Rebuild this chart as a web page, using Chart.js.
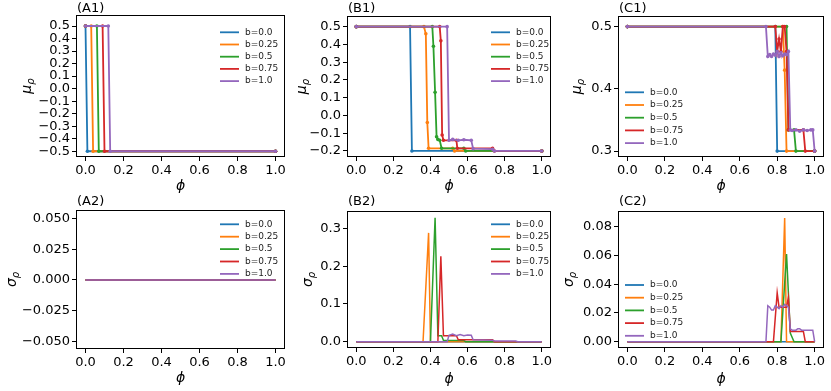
<!DOCTYPE html>
<html>
<head>
<meta charset="utf-8">
<script src="https://cdn.jsdelivr.net/npm/chart.js@4/dist/chart.umd.min.js"></script>
<style>
  body { margin: 0; background: #fff; width: 831px; height: 391px; position: relative; overflow: hidden; }
  .panel { position: absolute; }
</style>
</head>
<body>
<div class="panel" style="left:0px;top:0px;width:290px;height:195px"><canvas id="cA1"></canvas></div>
<div class="panel" style="left:290px;top:0px;width:270px;height:195px"><canvas id="cB1"></canvas></div>
<div class="panel" style="left:560px;top:0px;width:271px;height:195px"><canvas id="cC1"></canvas></div>
<div class="panel" style="left:0px;top:195px;width:290px;height:196px"><canvas id="cA2"></canvas></div>
<div class="panel" style="left:290px;top:195px;width:270px;height:196px"><canvas id="cB2"></canvas></div>
<div class="panel" style="left:560px;top:195px;width:271px;height:196px"><canvas id="cC2"></canvas></div>
<script>
// series names and colours (matplotlib tab10)
const seriesLabels = ['b=0.0', 'b=0.25', 'b=0.5', 'b=0.75', 'b=1.0'];
const seriesColors = ['#1f77b4', '#ff7f0e', '#2ca02c', '#d62728', '#9467bd'];

// tick labels
const phiTicks = [0, 0.2, 0.4, 0.6, 0.8, 1.0];
const a1Ticks = [-0.5, -0.4, -0.3, -0.2, -0.1, 0, 0.1, 0.2, 0.3, 0.4, 0.5];
const b1Ticks = [-0.2, -0.1, 0, 0.1, 0.2, 0.3, 0.4, 0.5];
const c1Ticks = [0.3, 0.4, 0.5];
const a2Ticks = [-0.05, -0.025, 0, 0.025, 0.05];
const b2Ticks = [0, 0.1, 0.2, 0.3];
const c2Ticks = [0, 0.02, 0.04, 0.06, 0.08];

// (A1) mu_rho
const a1Phi = [
  [0, 0.01, 1],
  [0, 0.03, 0.04, 1],
  [0, 0.06, 0.07, 1],
  [0, 0.09, 0.10, 1],
  [0, 0.12, 0.13, 1]
];
const a1Mu = [
  [0.5, -0.5, -0.5],
  [0.5, 0.5, -0.5, -0.5],
  [0.5, 0.5, -0.5, -0.5],
  [0.5, 0.5, -0.5, -0.5],
  [0.5, 0.5, -0.5, -0.5]
];

// (B1) mu_rho
const b1Phi = [
  [0, 0.29, 0.30, 1],
  [0, 0.365, 0.375, 0.383, 0.39, 0.52, 0.53, 1],
  [0, 0.41, 0.416, 0.425, 0.433, 0.44, 0.45, 0.46, 0.58, 0.59, 1],
  [0, 0.45, 0.456, 0.463, 0.47, 0.54, 0.545, 0.735, 0.745, 1],
  [0, 0.49, 0.50, 0.52, 0.55, 0.58, 0.62, 0.63, 0.735, 0.745, 1]
];
const b1Mu = [
  [0.5, 0.5, -0.2, -0.2],
  [0.5, 0.5, 0.46, -0.04, -0.185, -0.185, -0.2, -0.2],
  [0.5, 0.5, 0.39, 0.13, -0.12, -0.135, -0.14, -0.185, -0.185, -0.2, -0.2],
  [0.5, 0.5, 0.42, -0.11, -0.14, -0.14, -0.185, -0.185, -0.2, -0.2],
  [0.5, 0.5, -0.14, -0.135, -0.14, -0.137, -0.14, -0.187, -0.19, -0.2, -0.2]
];

// (C1) mu_rho
const c1Phi = [
  [0, 0.79, 0.80, 1],
  [0, 0.83, 0.84, 0.85, 1],
  [0, 0.85, 0.86, 0.89, 0.90, 1],
  [0, 0.79, 0.80, 0.81, 0.82, 0.83, 0.84, 0.85, 0.86, 0.94, 0.95, 1],
  [0, 0.74, 0.75, 0.76, 0.77, 0.78, 0.79, 0.80, 0.81, 0.82, 0.83, 0.84, 0.85, 0.86, 0.87, 0.88, 0.90, 0.92, 0.94, 0.96, 0.98, 0.99, 1]
];
const c1Mu = [
  [0.5, 0.5, 0.3, 0.3],
  [0.5, 0.5, 0.43, 0.3, 0.3],
  [0.5, 0.5, 0.334, 0.334, 0.3, 0.3],
  [0.5, 0.5, 0.46, 0.48, 0.46, 0.5, 0.5, 0.46, 0.334, 0.334, 0.3, 0.3],
  [0.5, 0.5, 0.452, 0.455, 0.452, 0.456, 0.454, 0.46, 0.452, 0.458, 0.453, 0.456, 0.455, 0.46, 0.334, 0.333, 0.334, 0.332, 0.334, 0.333, 0.334, 0.334, 0.3]
];

// (A2) sigma_rho
const a2Phi = [[0, 1], [0, 1], [0, 1], [0, 1], [0, 1]];
const a2Sigma = [[0, 0], [0, 0], [0, 0], [0, 0], [0, 0]];

// (B2) sigma_rho
const b2Phi = [
  [0, 1],
  [0, 0.36, 0.39, 0.40, 1],
  [0, 0.40, 0.425, 0.44, 0.46, 0.47, 0.58, 0.59, 1],
  [0, 0.44, 0.456, 0.47, 0.54, 0.55, 0.735, 0.745, 1],
  [0, 0.49, 0.50, 0.52, 0.54, 0.56, 0.58, 0.60, 0.62, 0.63, 0.735, 0.745, 0.86, 0.87, 1]
];
const b2Sigma = [
  [0, 0],
  [0, 0, 0.288, 0, 0],
  [0, 0, 0.328, 0.016, 0.016, 0.004, 0.003, 0, 0],
  [0, 0, 0.226, 0.016, 0.016, 0.005, 0.005, 0, 0],
  [0, 0, 0.017, 0.02, 0.016, 0.019, 0.016, 0.018, 0.017, 0.005, 0.004, 0.002, 0.002, 0, 0]
];

// (C2) sigma_rho
const c2Phi = [
  [0, 1],
  [0, 0.82, 0.84, 0.85, 1],
  [0, 0.82, 0.85, 0.87, 0.89, 1],
  [0, 0.78, 0.80, 0.81, 0.85, 0.86, 0.87, 0.94, 0.95, 1],
  [0, 0.74, 0.75, 0.76, 0.77, 0.78, 0.79, 0.80, 0.81, 0.82, 0.83, 0.84, 0.85, 0.86, 0.87, 0.88, 0.89, 0.90, 0.91, 0.92, 0.93, 0.94, 0.96, 0.98, 0.99, 1]
];
const c2Sigma = [
  [0, 0],
  [0, 0, 0.086, 0, 0],
  [0, 0, 0.061, 0.006, 0, 0],
  [0, 0, 0.034, 0.024, 0.024, 0.031, 0.007, 0.007, 0, 0],
  [0, 0, 0.025, 0.024, 0.022, 0.022, 0.025, 0.024, 0.023, 0.025, 0.024, 0.026, 0.025, 0.024, 0.009, 0.008, 0.008, 0.008, 0.009, 0.009, 0.008, 0.008, 0.008, 0.008, 0.008, 0]
];

const FONT = '"DejaVu Sans", sans-serif';

function fmt(v, digits) {
  if (Math.abs(v) < 1e-9) v = 0;
  return v.toFixed(digits).replace('-', '\u2212');
}

// frame, panel title, axis labels and legend
const decorPlugin = {
  id: 'decor',
  afterDraw(chart, args, o) {
    const ctx = chart.ctx;
    const a = chart.chartArea;
    ctx.save();
    ctx.strokeStyle = '#000';
    ctx.lineWidth = 1;
    ctx.strokeRect(Math.round(a.left) + 0.5, Math.round(a.top) + 0.5,
      Math.round(a.right - a.left) - 1, Math.round(a.bottom - a.top) - 1);

    ctx.fillStyle = '#000';
    ctx.textBaseline = 'middle';
    ctx.textAlign = 'left';
    ctx.font = '13px ' + FONT;
    ctx.fillText(o.title, a.left + 1, o.titleY);

    ctx.textAlign = 'center';
    ctx.font = 'italic 14px ' + FONT;
    ctx.fillText('\u03d5', (a.left + a.right) / 2, o.xLabelY);

    // y label: mu / sigma with subscript rho, rotated
    ctx.save();
    ctx.translate(o.yLabelX, (a.top + a.bottom) / 2);
    ctx.rotate(-Math.PI / 2);
    ctx.textAlign = 'left';
    ctx.font = 'italic 14px ' + FONT;
    const main = o.ySymbol;
    const w1 = ctx.measureText(main).width;
    ctx.font = 'italic 10px ' + FONT;
    const w2 = ctx.measureText('\u03c1').width;
    const x0 = -(w1 + w2) / 2;
    ctx.font = 'italic 14px ' + FONT;
    ctx.fillText(main, x0, 0);
    ctx.font = 'italic 10px ' + FONT;
    ctx.fillText('\u03c1', x0 + w1, 4);
    ctx.restore();

    // legend
    ctx.font = '9px ' + FONT;
    ctx.textAlign = 'left';
    chart.data.datasets.forEach((ds, i) => {
      const y = o.legY + i * o.legGap;
      ctx.strokeStyle = ds.borderColor;
      ctx.lineWidth = 1.8;
      ctx.beginPath();
      ctx.moveTo(o.legX, y);
      ctx.lineTo(o.legX + 19, y);
      ctx.stroke();
      ctx.fillStyle = '#222';
      ctx.fillText(ds.label, o.legX + 25, y);
    });
    ctx.restore();
  }
};

function makePanel(p) {
  const datasets = p.xs.map((xs, i) => ({
    label: seriesLabels[i],
    data: xs.map((x, j) => ({ x: x, y: p.ys[i][j] })),
    borderColor: seriesColors[i],
    backgroundColor: seriesColors[i],
    borderWidth: p.markers ? 1.8 : 1.5,
    pointRadius: p.markers ? 1.8 : 0,
    pointBorderWidth: 0,
    tension: 0,
    order: 4 - i
  }));
  const tickGrid = { display: true, drawOnChartArea: false, drawTicks: true, tickLength: 4, color: '#000', lineWidth: 1 };
  new Chart(document.getElementById(p.id), {
    type: 'line',
    data: { datasets: datasets },
    options: {
      responsive: true,
      maintainAspectRatio: false,
      animation: false,
      events: [],
      layout: { padding: { top: p.area[1] - p.box[1], right: p.box[2] - p.area[2], left: 0, bottom: 0 } },
      plugins: {
        legend: { display: false },
        tooltip: { enabled: false },
        decor: p.decor
      },
      scales: {
        x: {
          type: 'linear',
          min: -0.05,
          max: 1.05,
          grid: tickGrid,
          border: { display: false },
          afterBuildTicks: s => { s.ticks = phiTicks.map(v => ({ value: v })); },
          afterFit: s => { s.height = p.box[3] - p.area[3]; },
          ticks: {
            autoSkip: false, maxRotation: 0, padding: 2, color: '#000',
            font: { family: FONT, size: 13 },
            callback: v => fmt(v, 1)
          }
        },
        y: {
          min: p.yMin,
          max: p.yMax,
          grid: tickGrid,
          border: { display: false },
          afterBuildTicks: s => { s.ticks = p.yTicks.map(v => ({ value: v })); },
          afterFit: s => { s.width = p.area[0] - p.box[0]; },
          ticks: {
            autoSkip: false, padding: 2, color: '#000',
            font: { family: FONT, size: 13 },
            callback: v => fmt(v, p.digits)
          }
        }
      }
    },
    plugins: [decorPlugin]
  });
}

// box / area are absolute [left, top, right, bottom]; canvases are positioned to box
makePanel({ id: 'cA1', box: [0, 0, 290, 195], area: [76, 15, 285, 157], markers: true,
  xs: a1Phi, ys: a1Mu, yMin: -0.546, yMax: 0.588, yTicks: a1Ticks, digits: 1,
  decor: { title: '(A1)', titleY: 9, xLabelY: 186, yLabelX: 27, ySymbol: '\u03bc', legX: 220, legY: 32.3, legGap: 12.2 } });
makePanel({ id: 'cB1', box: [290, 0, 560, 195], area: [347, 16, 551, 157], markers: true,
  xs: b1Phi, ys: b1Mu, yMin: -0.234, yMax: 0.56, yTicks: b1Ticks, digits: 1,
  decor: { title: '(B1)', titleY: 9, xLabelY: 186, yLabelX: 302 - 290, ySymbol: '\u03bc', legX: 491 - 290, legY: 32.3, legGap: 12.2 } });
makePanel({ id: 'cC1', box: [560, 0, 831, 195], area: [618, 16, 824, 157], markers: true,
  xs: c1Phi, ys: c1Mu, yMin: 0.2905, yMax: 0.517, yTicks: c1Ticks, digits: 1,
  decor: { title: '(C1)', titleY: 9, xLabelY: 186, yLabelX: 577 - 560, ySymbol: '\u03bc', legX: 625 - 560, legY: 92.3, legGap: 12.7 } });
makePanel({ id: 'cA2', box: [0, 195, 290, 391], area: [76, 210, 285, 349], markers: false,
  xs: a2Phi, ys: a2Sigma, yMin: -0.0559, yMax: 0.0567, yTicks: a2Ticks, digits: 3,
  decor: { title: '(A2)', titleY: 7, xLabelY: 183, yLabelX: 12, ySymbol: '\u03c3', legX: 220, legY: 29.3, legGap: 12.4 } });
makePanel({ id: 'cB2', box: [290, 195, 560, 391], area: [347, 211, 551, 348], markers: false,
  xs: b2Phi, ys: b2Sigma, yMin: -0.0167, yMax: 0.346, yTicks: b2Ticks, digits: 1,
  decor: { title: '(B2)', titleY: 7, xLabelY: 184, yLabelX: 308 - 290, ySymbol: '\u03c3', legX: 491 - 290, legY: 29.3, legGap: 12.4 } });
makePanel({ id: 'cC2', box: [560, 195, 831, 391], area: [618, 211, 824, 348], markers: false,
  xs: c2Phi, ys: c2Sigma, yMin: -0.0044, yMax: 0.0909, yTicks: c2Ticks, digits: 2,
  decor: { title: '(C2)', titleY: 7, xLabelY: 184, yLabelX: 569 - 560, ySymbol: '\u03c3', legX: 625 - 560, legY: 90, legGap: 12.7 } });
</script>
</body>
</html>
